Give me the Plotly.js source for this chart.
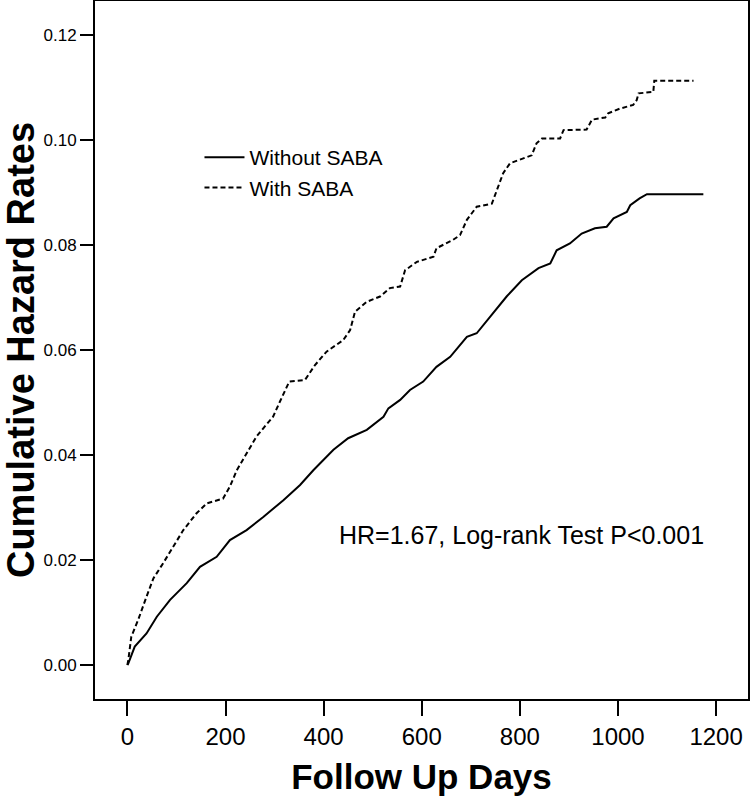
<!DOCTYPE html>
<html>
<head>
<meta charset="utf-8">
<script src="https://cdn.plot.ly/plotly-3.0.1.min.js"></script>
<style>
  html, body { margin: 0; padding: 0; background: #fff; }
  #chart { width: 750px; height: 801px; }
</style>
</head>
<body>
<div id="chart"></div>
<script>
/*
 * ~~~~~~~~~~~~~~~~~~~~~~~~~~~~~~~~~~~~~~~~~~~~~~~~
 * Data
 * ~~~~~~~~~~~~~~~~~~~~~~~~~~~~~~~~~~~~~~~~~~~~~~~~
 */

const withoutDays = [0, 2, 15, 39, 60, 87, 121, 148, 182, 209, 243, 277, 318, 352, 379, 420, 450,
  488, 522, 532, 556, 576, 603, 630, 658, 692, 712, 746, 773, 804, 838, 862, 875, 902, 926,
  953, 977, 991, 1018, 1025, 1044, 1059, 1174];
const withoutHazard = [0, 0.0003, 0.0035, 0.0060, 0.0092, 0.0124, 0.0156, 0.0187, 0.0206, 0.0238,
  0.0257, 0.0282, 0.0314, 0.0343, 0.0371, 0.0410, 0.0432, 0.0448, 0.0473, 0.0489, 0.0505,
  0.0524, 0.0540, 0.0568, 0.0587, 0.0625, 0.0632, 0.0670, 0.0702, 0.0733, 0.0756, 0.0765,
  0.0790, 0.0803, 0.0822, 0.0832, 0.0835, 0.0851, 0.0863, 0.0876, 0.0889, 0.0897, 0.0897];

const withDays = [0, 2, 8, 22, 39, 53, 73, 93, 114, 141, 162, 195, 209, 223, 243, 263, 277, 297,
  311, 330, 362, 382, 406, 440, 454, 464, 488, 515, 535, 556, 566, 590, 624, 630, 664, 678, 692,
  712, 743, 753, 766, 780, 807, 824, 834, 845, 882, 889, 936, 947, 974, 980, 1004, 1031, 1038,
  1042, 1072, 1074, 1154];
const withHazard = [0, 0.0010, 0.0054, 0.0086, 0.0130, 0.0165, 0.0194, 0.0225, 0.0257, 0.0289,
  0.0308, 0.0317, 0.0340, 0.0371, 0.0403, 0.0435, 0.0451, 0.0473, 0.0502, 0.0540, 0.0543, 0.0571,
  0.0597, 0.0619, 0.0638, 0.0673, 0.0692, 0.0702, 0.0718, 0.0721, 0.0752, 0.0768, 0.0778,
  0.0794, 0.0810, 0.0819, 0.0848, 0.0873, 0.0879, 0.0905, 0.0937, 0.0956, 0.0965, 0.0971,
  0.0994, 0.1003, 0.1003, 0.1019, 0.1020, 0.1039, 0.1043, 0.1051, 0.1060, 0.1067, 0.1076, 0.1089,
  0.1092, 0.1113, 0.1113];

const seriesNames = ['Without SABA', 'With SABA'];
const xTicks = [0, 200, 400, 600, 800, 1000, 1200];
const yTicks = [0, 0.02, 0.04, 0.06, 0.08, 0.10, 0.12];
const yTickLabels = ['0.00', '0.02', '0.04', '0.06', '0.08', '0.10', '0.12'];
const noteText = 'HR=1.67, Log-rank Test P<0.001';

/*
 * ~~~~~~~~~~~~~~~~~~~~~~~~~~~~~~~~~~~~~~~~~~~~~~~~
 * Plot
 * ~~~~~~~~~~~~~~~~~~~~~~~~~~~~~~~~~~~~~~~~~~~~~~~~
 */

const FONT = 'Liberation Sans, Arial, sans-serif';

// the curves have many tiny steps, so straight segments between read points look closest
const makeCurve = (name, x, y, dash) => ({
  type: 'scatter',
  mode: 'lines',
  name: name,
  x: x,
  y: y,
  line: {color: '#000', width: 2, shape: 'linear', dash: dash},
  hoverinfo: 'skip',
});

const data = [
  makeCurve(seriesNames[0], withoutDays, withoutHazard, 'solid'),
  makeCurve(seriesNames[1], withDays, withHazard, '5px,3px'),
];

const layout = {
  width: 750,
  height: 801,
  margin: {l: 95, r: 2, t: 1, b: 102},
  paper_bgcolor: '#fff',
  plot_bgcolor: '#fff',
  font: {family: FONT, color: '#000'},
  showlegend: true,
  legend: {
    x: 0.16,
    y: 0.805,
    xanchor: 'left',
    yanchor: 'top',
    bgcolor: 'rgba(0,0,0,0)',
    font: {family: FONT, size: 21, color: '#000'},
    itemwidth: 40,
    tracegroupgap: 0,
  },
  xaxis: {
    range: [-66, 1265],
    tickvals: xTicks,
    ticktext: xTicks.map(String),
    ticks: 'outside',
    ticklen: 15,
    tickwidth: 2,
    tickcolor: '#000',
    tickfont: {family: FONT, size: 24, color: '#000'},
    showline: true,
    linecolor: '#000',
    linewidth: 2,
    mirror: true,
    showgrid: false,
    zeroline: false,
    title: {
      text: '<b>Follow Up Days</b>',
      font: {family: FONT, size: 35, color: '#000'},
      standoff: 16,
    },
  },
  yaxis: {
    range: [-0.00648, 0.1265],
    tickvals: yTicks,
    ticktext: yTickLabels,
    ticks: 'outside',
    ticklen: 13,
    tickwidth: 2,
    tickcolor: '#000',
    tickfont: {family: FONT, size: 17, color: '#000'},
    showline: true,
    linecolor: '#000',
    linewidth: 2,
    mirror: true,
    showgrid: false,
    zeroline: false,
    title: {
      text: '<b>Cumulative Hazard Rates</b>',
      font: {family: FONT, size: 38, color: '#000'},
      standoff: 17,
    },
  },
  annotations: [{
    xref: 'paper',
    yref: 'paper',
    x: 0.37,
    y: 0.235,
    xanchor: 'left',
    yanchor: 'middle',
    text: noteText,
    showarrow: false,
    font: {family: FONT, size: 25, color: '#000'},
  }],
};

Plotly.newPlot('chart', data, layout, {displayModeBar: false, staticPlot: true});
</script>
</body>
</html>
